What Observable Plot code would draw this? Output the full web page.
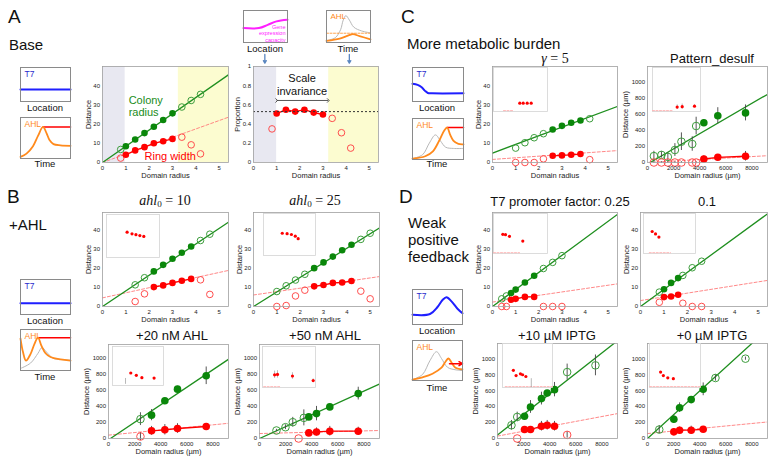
<!DOCTYPE html>
<html><head><meta charset="utf-8">
<script src="https://cdn.jsdelivr.net/npm/d3@7"></script>
<script src="https://cdn.jsdelivr.net/npm/@observablehq/plot@0.6"></script>
<style>
body{margin:0;background:#fff;}
#fig{position:relative;width:776px;height:463px;overflow:hidden;font-family:"Liberation Sans",Arial,sans-serif;background:#fff;color:#111;}
.t{position:absolute;line-height:1;white-space:nowrap;}
#fig svg{position:absolute;overflow:visible;}
</style></head><body><div id="fig"></div>
<script>
// ---------------- DATA ----------------
// Panel A - Base
const A1_greenFilled = [[1.0,8.5],[1.4,12.0],[1.8,15.3],[2.2,18.6],[2.6,22.1],[3.0,25.6]];
const A1_greenOpen = [[0.78,6.8],[3.4,28.9],[3.8,32.3],[4.2,35.5]];
const A1_redFilled = [[1.0,4.0],[1.4,6.3],[1.8,8.0],[2.2,10.0],[2.6,11.1],[3.0,12.3]];
const A1_redOpen = [[0.78,2.3],[3.4,13.2],[3.8,9.2],[4.2,4.5]];
const A1_greenFit = [[0,0],[5.4,45.7]];
const A1_redFit = [[0,0],[5.4,23.6]];
const A1_lowRange = [0,0.97];
const A1_highRange = [3.25,5.4];
const A2_redFilled = [[1.0,0.51],[1.4,0.55],[1.8,0.53],[2.2,0.55],[2.6,0.52],[3.0,0.50]];
const A2_redOpen = [[0.8,0.35],[3.4,0.46],[3.8,0.31],[4.2,0.15]];
const A2_mean = [0.53];
const A2_invariantRange = [1.0,3.23];
const A2_lowRange = [0,1.0];
const A2_highRange = [3.25,5.4];
const A2_probeX = [0.49,4.14];
// Panel B - +AHL
const B1_greenFilled = [[2.2,18.3],[2.6,21.7],[3.0,24.9],[3.4,28.0],[3.8,31.3]];
const B1_greenOpen = [[1.4,11.3],[1.8,15.0],[4.2,34.4],[4.6,37.7]];
const B1_redFilled = [[2.2,10.1],[2.6,11.0],[3.0,12.3],[3.4,13.4],[3.8,14.4]];
const B1_redOpen = [[1.4,2.6],[1.8,6.6],[4.2,13.9],[4.6,6.3]];
const B1_greenFit = [[0,0],[5.4,44]];
const B1_redFit = [[0,4.5],[5.4,18.8]];
const B1_inset = [[2.1,0.59],[2.6,0.55],[3.0,0.53],[3.4,0.51],[3.8,0.49]];
const B2_greenFilled = [[2.6,20.0],[3.0,23.0],[3.4,26.0],[3.8,29.3],[4.2,32.2]];
const B2_greenOpen = [[1.0,7.8],[1.4,10.8],[1.8,13.8],[2.2,16.8],[4.6,35.0],[5.0,38.2]];
const B2_redFilled = [[2.6,10.5],[3.0,11.2],[3.4,12.3],[3.8,12.5],[4.2,13.3]];
const B2_redOpen = [[1.0,0.0],[1.4,0.5],[1.8,5.5],[2.2,8.5],[4.6,8.0],[5.0,4.0]];
const B2_greenFit = [[0,0],[5.4,41]];
const B2_redFit = [[0,6],[5.4,15.6]];
const B2_inset = [[1.95,0.53],[2.45,0.52],[2.9,0.5],[3.3,0.46],[3.6,0.4]];
const B3_greenFilled = [[3300,292,70],[4320,471,15],[5290,617,35],[7490,784,110]];
const B3_greenOpen = [[2450,242,80]];
const B3_redFilled = [[3300,96,55],[4320,109,65],[5290,125,60],[7490,150,25]];
const B3_redOpen = [[2450,25,50]];
const B3_greenFit = [[150,0],[9200,990]];
const B3_redFit = [[0,42],[9200,190]];
const B3_inset = [[3300,0.32],[4300,0.26],[5300,0.2],[7500,0.19]];
const B3_insetErr = [[2350,0.03,0.18]];
const B4_greenFilled = [[3780,270,30],[4370,311,90],[5390,395,25],[7570,561,80]];
const B4_greenOpen = [[1300,100,15],[1990,141,30],[2550,204,60],[3400,258,100]];
const B4_redFilled = [[3780,70,25],[4370,82,50],[5390,91,60],[7570,91,50]];
const B4_redOpen = [[3000,0,0]];
const B4_greenFit = [[0,0],[9200,680]];
const B4_redFit = [[0,62],[9200,100]];
const B4_inset = [[2100,0.31],[2600,0.32],[5200,0.28],[8800,0.17]];
const B4_insetErr = [[2100,0.22,0.4],[2600,0.23,0.41],[5200,0.2,0.36],[8800,0.13,0.21]];
// Panel C - More metabolic burden
const C1_greenFilled = [[2.6,17.2],[3.0,19.1],[3.4,20.7],[3.8,21.9]];
const C1_greenOpen = [[1.0,7.5],[1.4,10.3],[1.8,12.9],[2.2,15.0],[4.2,22.8]];
const C1_redFilled = [[2.6,3.5],[3.0,3.7],[3.4,4.0],[3.8,4.4]];
const C1_redOpen = [[1.0,0],[1.4,0],[1.8,0],[2.2,1.9],[4.2,1.5]];
const C1_greenFit = [[0,4.9],[5.4,29.2]];
const C1_redFit = [[0,1.6],[5.4,6.2]];
const C1_inset = [[2.63,0.19],[2.97,0.19],[3.37,0.19],[3.77,0.19]];
const C2_greenFilled = [[4320,497,40],[5390,585,100],[7515,620,100]];
const C2_greenOpen = [[490,80,60],[1070,95,40],[1560,70,50],[2100,156,80],[2600,260,110],[3430,231,90],[3730,456,110]];
const C2_redFilled = [[4320,44,40],[5390,65,30],[7515,78,60]];
const C2_redOpen = [[490,0,10],[1070,0,10],[1560,0,10],[2100,0,10],[2600,0,10],[3430,0,10],[3730,0,10]];
const C2_greenFit = [[200,0],[9200,852]];
const C2_redFit = [[0,0],[9200,85]];
const C2_inset = [[4730,0.1],[5690,0.11],[8050,0.12]];
const C2_insetErr = [[4730,0.05,0.15],[5690,0.05,0.17],[8050,0.09,0.15]];
// Panel D - Weak positive feedback
const D1_greenFilled = [[0.8,7.0],[1.0,8.8],[1.4,12.5],[1.8,16.0]];
const D1_greenOpen = [[0.4,4.0],[0.6,5.5],[2.2,19.8],[2.6,23.0],[3.0,26.5]];
const D1_redFilled = [[0.8,3.5],[1.0,4.0],[1.4,5.0],[1.8,5.0]];
const D1_redOpen = [[0.4,0],[0.6,0],[2.2,0],[2.6,0],[3.0,0]];
const D1_greenFit = [[0,0],[5.4,48]];
const D1_redFit = [[0,2.3],[5.4,11.8]];
const D1_inset = [[0.93,0.48],[1.2,0.47],[1.6,0.43],[2.93,0.31]];
const D2_greenFilled = [[1.0,9.0],[1.3,12.3],[1.6,14.8]];
const D2_greenOpen = [[0.8,7.5],[1.8,16.2],[2.2,20.2],[2.6,23.6]];
const D2_redFilled = [[1.0,4.9],[1.3,5.2],[1.6,6.1]];
const D2_redOpen = [[0.8,2.2],[1.8,1.7],[2.2,0],[2.6,0]];
const D2_greenFit = [[0,0],[5.4,48.3]];
const D2_redFit = [[0,3.1],[5.4,13.6]];
const D2_inset = [[0.9,0.55],[1.25,0.49],[1.6,0.41]];
const D3_greenFilled = [[2070,279,30],[2530,395,80],[3370,500,80],[3810,570,30],[4370,612,90]];
const D3_greenOpen = [[1070,166,60],[1510,270,60],[5340,832,100],[7510,916,130]];
const D3_redFilled = [[2070,112,20],[2530,112,30],[3370,154,60],[3810,166,60],[4370,154,60]];
const D3_redOpen = [[1510,0,0],[5340,45,40]];
const D3_greenFit = [[0,45],[9200,1225]];
const D3_redFit = [[0,30],[9200,312]];
const D3_inset = [[2000,0.39],[2500,0.27],[3300,0.31],[3700,0.29],[4300,0.25]];
const D3_insetErr = [[5300,0.0,0.2]];
const D4_greenFilled = [[2020,241,50],[2460,386,60],[3350,487,30],[4270,616,80]];
const D4_greenOpen = [[900,112,50],[5210,758,40],[7510,1000,20]];
const D4_redFilled = [[2020,83,40],[2460,104,40],[3350,104,50],[4270,116,30]];
const D4_redOpen = [];
const D4_greenFit = [[0,0],[9200,1369]];
const D4_redFit = [[0,62],[9200,207]];
const D4_inset = [[2000,0.35],[2500,0.27],[3300,0.22],[4300,0.2]];
// Schematic curves (normalised 0..1)
const A_T7 = [[0,0.35],[1,0.35]];
const A_AHL = [[0,0.04],[0.12,0.12],[0.25,0.3],[0.35,0.55],[0.45,0.77],[0.52,0.62],[0.58,0.45],[0.66,0.35],[0.8,0.32],[1,0.31]];
const A_AHLhold = [[0.45,0.77],[1,0.77]];
const B_T7 = [[0,0.32],[1,0.32]];
const B_AHLref = [[0,0.05],[0.2,0.18],[0.35,0.42],[0.43,0.56],[0.52,0.45],[0.65,0.3],[0.8,0.27],[1,0.25]];
const B_AHL = [[0,0.78],[0.05,0.45],[0.11,0.24],[0.2,0.4],[0.28,0.65],[0.35,0.8],[0.42,0.6],[0.5,0.42],[0.6,0.33],[0.8,0.27],[1,0.24]];
const B_AHLhold = [[0.35,0.8],[1,0.8]];
const C_T7 = [[0,0.52],[0.1,0.49],[0.18,0.42],[0.24,0.32],[0.3,0.25],[0.38,0.24],[1,0.24]];
const C_AHLref = [[0,0.02],[0.2,0.12],[0.33,0.4],[0.45,0.6],[0.55,0.45],[0.65,0.3],[0.8,0.27],[1,0.27]];
const C_AHL = [[0,0.02],[0.25,0.08],[0.4,0.2],[0.52,0.45],[0.62,0.7],[0.68,0.78],[0.74,0.6],[0.8,0.46],[0.9,0.38],[1,0.37]];
const C_AHLhold = [[0.68,0.78],[1,0.78]];
const D_T7 = [[0,0.28],[0.35,0.3],[0.5,0.5],[0.6,0.7],[0.68,0.78],[0.78,0.66],[0.9,0.45],[1,0.32]];
const D_AHLref = [[0,0.02],[0.2,0.15],[0.35,0.5],[0.48,0.72],[0.58,0.55],[0.7,0.33],[0.85,0.27],[1,0.25]];
const D_AHL = [[0,0.02],[0.2,0.08],[0.4,0.17],[0.58,0.32],[0.66,0.47],[0.72,0.55],[0.78,0.45],[0.86,0.32],[1,0.28]];
const D_AHLhold = [[0.74,0.42],[1,0.42]];
const Atop_gene = [[0,0.45],[0.35,0.45],[0.55,0.55],[0.75,0.66],[1,0.71]];
const Atop_AHLref = [[0,0.06],[0.2,0.15],[0.32,0.4],[0.38,0.7],[0.44,0.84],[0.52,0.7],[0.62,0.48],[0.8,0.36],[1,0.3]];
const Atop_AHL = [[0,0.05],[0.3,0.12],[0.5,0.22],[0.6,0.26],[0.75,0.2],[1,0.1]];
const Atop_threshold = [[0,0.29],[1,0.29]];
const distTicksX = [0,1,2,3,4,5];
const distTicksY = [0,10,20,30,40];
const propTicksY = [0,0.2,0.4,0.6,0.8,1];
const umTicksX = [0,2000,4000,6000,8000];
const umTicksY = [0,200,400,600,800,1000];

// ---------------- DRAWING ----------------
const fig = document.getElementById("fig");
const FONT = '"Liberation Sans", Arial, Helvetica, sans-serif';
const GREEN = "#0a870a", GREEN_OPEN = "#3d9d3d", GREEN_LINE = "#1f8f1f";
const RED = "#ff0000", RED_OPEN = "#ff4d4d", RED_DASH = "#ff7a7a";
const STYLE = {fontFamily: FONT, fontSize: "7px", background: "transparent", overflow: "visible", color: "#222"};
const pts = a => a.map(d => ({x: d[0], y: d[1], e: d[2] ?? 0}));

function put(node, left, top) {
  node.style.position = "absolute"; node.style.left = left + "px"; node.style.top = top + "px";
  fig.appendChild(node); return node;
}
function txt(html, x, base, size, o = {}) {
  const d = document.createElement("div");
  d.className = "t"; d.innerHTML = html;
  d.style.fontSize = size + "px";
  d.style.fontFamily = o.family || FONT;
  if (o.color) d.style.color = o.color;
  const top = base - 0.85 * size;
  if (o.anchor === "middle") { d.style.width = "300px"; d.style.textAlign = "center"; put(d, x - 150, top); }
  else put(d, x, top);
}

function mainPlot(c) {
  const um = !!c.um;
  const ml = um ? 34 : 26, mr = 4, mt = c.mt ?? 4, mb = 22;
  const W = c.R - c.L, H = c.B - c.T;
  const gf = pts(c.gf || []), go = pts(c.go || []), rf = pts(c.rf || []), ro = pts(c.ro || []);
  const r = um ? 3.8 : 3.3;
  const marks = [];
  if (c.low) marks.push(Plot.rect([c.low], {x1: d => d[0], x2: d => d[1], fill: "#e8e8f1"}));
  if (c.high) marks.push(Plot.rect([c.high], {x1: d => d[0], x2: d => d[1], fill: "#fcfcd0"}));
  if (c.rFit) marks.push(Plot.line(pts(c.rFit), {x: "x", y: "y", stroke: RED_DASH, strokeWidth: 0.9, strokeDasharray: "3,2", clip: true}));
  if (c.gFit) marks.push(Plot.line(pts(c.gFit), {x: "x", y: "y", stroke: GREEN_LINE, strokeWidth: 1.3, clip: true}));
  if (rf.length > 1) marks.push(Plot.line(rf, {x: "x", y: "y", stroke: RED, strokeWidth: 1.3}));
  if (um) {
    const all = [...go, ...gf, ...ro, ...rf].filter(d => d.e > 0);
    marks.push(Plot.ruleX(all, {x: "x", y1: d => d.y - d.e, y2: d => d.y + d.e, stroke: "#444", strokeWidth: 0.9}));
  }
  marks.push(Plot.dot(go, {x: "x", y: "y", r, stroke: GREEN_OPEN, strokeWidth: 1, fill: "none"}));
  marks.push(Plot.dot(ro, {x: "x", y: "y", r, stroke: RED_OPEN, strokeWidth: 1, fill: "none"}));
  marks.push(Plot.dot(gf, {x: "x", y: "y", r, fill: GREEN}));
  marks.push(Plot.dot(rf, {x: "x", y: "y", r, fill: RED}));
  marks.push(...(c.extra || []));
  marks.push(Plot.frame({stroke: "#a0a0a0", strokeWidth: 0.8}));
  const fmt = um ? d3.format("d") : (d => String(d));
  marks.push(Plot.axisX({ticks: c.xTicks, tickSize: 0, tickPadding: 3, tickFormat: fmt, fontSize: 6, label: null}));
  marks.push(Plot.axisY({ticks: c.yTicks, tickSize: 0, tickPadding: 2.5, tickFormat: fmt, fontSize: 6, label: null}));
  marks.push(Plot.text([c.xLabel], {frameAnchor: "bottom", dy: 10.5, text: d => d, lineAnchor: "top", textAnchor: "middle", fontSize: 7.5, fill: "#222"}));
  marks.push(Plot.text([c.yLabel], {frameAnchor: "left", dx: -(c.yOff ?? (um ? 25 : 16.5)), rotate: -90, text: d => d, lineAnchor: "top", textAnchor: "middle", fontSize: 7.5, fill: "#222"}));
  const p = Plot.plot({
    width: W + ml + mr, height: H + mt + mb,
    marginLeft: ml, marginRight: mr, marginTop: mt, marginBottom: mb,
    x: {domain: c.xDomain}, y: {domain: c.yDomain},
    style: STYLE, marks
  });
  put(p, c.L - ml, c.T - mt);
}

function distPlot(c) {
  mainPlot(Object.assign({xDomain: [0, 5.4], yDomain: [0, 49], xTicks: distTicksX, yTicks: distTicksY,
    xLabel: "Domain radius", yLabel: "Distance"}, c));
}
function umPlot(c) {
  mainPlot(Object.assign({um: true, xDomain: [0, 9200], xTicks: umTicksX, yTicks: umTicksY,
    xLabel: "Domain radius (µm)", yLabel: "Distance (µm)"}, c));
}

function mini(L, T, W, H, marks) {
  const p = Plot.plot({
    width: W, height: H, margin: 0,
    x: {domain: [0, 1], axis: null}, y: {domain: [0, 1], axis: null},
    style: STYLE,
    marks: [...marks, Plot.frame({stroke: "#8a8a8a", strokeWidth: 1})]
  });
  put(p, L, T);
}
const curve = (a, stroke, w = 1.8, o = {}) => Plot.line(pts(a), {x: "x", y: "y", stroke, strokeWidth: w, curve: "catmull-rom", ...o});
const corner = (t, fill, size = 8.5) => Plot.text([t], {frameAnchor: "top-left", dx: 4, dy: 3, text: d => d, fill, fontSize: size, textAnchor: "start", lineAnchor: "top"});

function inset(L, T, W, H, xDomain, dots, errs = [], faint = null) {
  const marks = [Plot.frame({stroke: "#d4d4d4", fill: "white", strokeWidth: 0.8})];
  if (faint) marks.push(Plot.line(pts(faint), {x: "x", y: "y", stroke: "#ffb5b5", strokeWidth: 1, strokeDasharray: "2,1.5"}));
  if (errs.length) marks.push(Plot.ruleX(errs, {x: d => d[0], y1: d => d[1], y2: d => d[2], stroke: "#999", strokeWidth: 0.7}));
  marks.push(Plot.dot(pts(dots), {x: "x", y: "y", r: 1.6, fill: RED}));
  const p = Plot.plot({width: W, height: H, margin: 0, x: {domain: xDomain, axis: null}, y: {domain: [0, 1], axis: null}, style: STYLE, marks});
  put(p, L, T);
}

// ----- Panel A -----
distPlot({L: 102, R: 228, T: 66, B: 162, yDomain: [0, 50],
  gf: A1_greenFilled, go: A1_greenOpen, rf: A1_redFilled, ro: A1_redOpen, gFit: A1_greenFit, rFit: A1_redFit,
  low: A1_lowRange, high: A1_highRange,
  extra: [
    Plot.text(["Colony\nradius"], {x: () => 1.12, y: () => 35.3, text: d => d, fill: "#1a8c1a", fontSize: 11, textAnchor: "start", lineAnchor: "top", lineHeight: 1.15}),
    Plot.text(["Ring width"], {x: () => 1.8, y: () => 3.3, text: d => d, fill: RED, fontSize: 11, textAnchor: "start", lineAnchor: "middle"})
  ]});
mainPlot({L: 253, R: 378, T: 66, B: 162, mt: 16, xDomain: [0, 5.4], yDomain: [0, 1], xTicks: distTicksX, yTicks: propTicksY,
  xLabel: "Domain radius", yLabel: "Proportion", yOff: 18.5,
  rf: A2_redFilled, ro: A2_redOpen, low: A2_lowRange, high: A2_highRange,
  extra: [
    Plot.ruleY(A2_mean, {stroke: "#333", strokeWidth: 1, strokeDasharray: "2,2"}),
    Plot.link([A2_invariantRange], {x1: d => d[0], x2: d => d[1], y1: () => 0.646, y2: () => 0.646, stroke: "#444", strokeWidth: 0.9, markerStart: "arrow", markerEnd: "arrow"}),
    Plot.text(["Scale\ninvariance"], {x: () => 2.1, y: () => 0.925, text: d => d, fill: "#111", fontSize: 11, textAnchor: "middle", lineAnchor: "top", lineHeight: 1.12}),
    Plot.arrow(A2_probeX, {x1: d => d, x2: d => d, y1: () => 1.125, y2: () => 1.035, stroke: "#5a86c0", strokeWidth: 1.3, headLength: 4})
  ]});
mini(20, 67, 50, 34, [curve(A_T7, "#1f1fff", 2), corner("T7", "#2a2acc")]);
mini(20, 117, 50, 41, [curve(A_AHLhold, RED, 1.6), curve(A_AHL, "#ff8a1c", 1.8), corner("AHL", "#ff8a1c")]);
mini(243, 10, 44, 32, [curve(Atop_gene, "#ff1fff", 2),
  Plot.text(["Gene\nexpression\ncapacity"], {frameAnchor: "bottom-right", dx: -2, dy: -1, text: d => d, fill: "#ff22ff", fontSize: 5.5, textAnchor: "end", lineAnchor: "bottom", lineHeight: 1.1})]);
mini(326, 10, 44, 32, [curve(Atop_AHLref, "#b8b8b8", 1), curve(Atop_threshold, "#ff9a3a", 0.9, {strokeDasharray: "2,1.5"}),
  curve(Atop_AHL, "#ff8a1c", 1.8), corner("AHL", "#ff8a1c", 8)]);

// ----- Panel B -----
distPlot({L: 102, R: 228, T: 212, B: 306, gf: B1_greenFilled, go: B1_greenOpen, rf: B1_redFilled, ro: B1_redOpen, gFit: B1_greenFit, rFit: B1_redFit});
inset(106, 214, 53, 43, [0, 5.4], B1_inset);
distPlot({L: 253, R: 379, T: 212, B: 306, gf: B2_greenFilled, go: B2_greenOpen, rf: B2_redFilled, ro: B2_redOpen, gFit: B2_greenFit, rFit: B2_redFit});
inset(263, 213, 52, 42, [0, 5.4], B2_inset);
umPlot({L: 108, R: 228, T: 344, B: 438, yDomain: [0, 1175], gf: B3_greenFilled, go: B3_greenOpen, rf: B3_redFilled, ro: B3_redOpen, gFit: B3_greenFit, rFit: B3_redFit});
inset(112, 346, 51, 39, [0, 9200], B3_inset, B3_insetErr);
umPlot({L: 259, R: 379, T: 344, B: 438, yDomain: [0, 1175], gf: B4_greenFilled, go: B4_greenOpen, rf: B4_redFilled, ro: B4_redOpen, gFit: B4_greenFit, rFit: B4_redFit});
inset(262, 346, 53, 41, [0, 9200], B4_inset, B4_insetErr, [[200, 0.02], [3000, 0.02]]);
mini(20, 279, 50, 35, [curve(B_T7, "#1f1fff", 2), corner("T7", "#2a2acc")]);
mini(20, 329, 50, 41, [curve(B_AHLref, "#b8b8b8", 1), curve(B_AHLhold, RED, 1.6), curve(B_AHL, "#ff8a1c", 1.8), corner("AHL", "#ff8a1c")]);

// ----- Panel C -----
distPlot({L: 492, R: 617, T: 66, B: 162, yDomain: [0, 50], gf: C1_greenFilled, go: C1_greenOpen, rf: C1_redFilled, ro: C1_redOpen, gFit: C1_greenFit, rFit: C1_redFit});
inset(493, 67, 54, 44, [0, 5.4], C1_inset, [], [[1.0, 0.02], [1.9, 0.02]]);
umPlot({L: 647, R: 767, T: 66, B: 162, yDomain: [0, 1200], gf: C2_greenFilled, go: C2_greenOpen, rf: C2_redFilled, ro: C2_redOpen, gFit: C2_greenFit, rFit: C2_redFit});
inset(652, 67, 48, 44, [0, 9200], C2_inset, C2_insetErr, [[0, 0.02], [3800, 0.02]]);
mini(412, 67, 51, 34, [curve(C_T7, "#1f1fff", 2), corner("T7", "#2a2acc")]);
mini(412, 118, 51, 41, [curve(C_AHLref, "#b8b8b8", 1), curve(C_AHLhold, RED, 1.6), curve(C_AHL, "#ff8a1c", 1.8), corner("AHL", "#ff8a1c")]);

// ----- Panel D -----
distPlot({L: 492, R: 617, T: 212, B: 306, gf: D1_greenFilled, go: D1_greenOpen, rf: D1_redFilled, ro: D1_redOpen, gFit: D1_greenFit, rFit: D1_redFit});
inset(493, 213, 54, 40, [0, 5.4], D1_inset, [], [[0, 0.02], [2.6, 0.02]]);
distPlot({L: 640, R: 767, T: 212, B: 306, gf: D2_greenFilled, go: D2_greenOpen, rf: D2_redFilled, ro: D2_redOpen, gFit: D2_greenFit, rFit: D2_redFit});
inset(643, 213, 52, 40, [0, 5.4], D2_inset, [], [[0.6, 0.02], [2.8, 0.02]]);
umPlot({L: 497, R: 617, T: 343, B: 438, yDomain: [0, 1190], gf: D3_greenFilled, go: D3_greenOpen, rf: D3_redFilled, ro: D3_redOpen, gFit: D3_greenFit, rFit: D3_redFit});
inset(502, 343, 50, 44, [0, 9200], D3_inset, D3_insetErr, [[500, 0.02], [9200, 0.02]]);
umPlot({L: 647, R: 767, T: 343, B: 438, yDomain: [0, 1190], gf: D4_greenFilled, go: D4_greenOpen, rf: D4_redFilled, ro: D4_redOpen, gFit: D4_greenFit, rFit: D4_redFit});
inset(649, 343, 51, 44, [0, 9200], D4_inset, [], [[0, 0.02], [9200, 0.02]]);
mini(412, 289, 50, 35, [curve(D_T7, "#1f1fff", 2), corner("T7", "#2a2acc")]);
mini(412, 340, 50, 40, [curve(D_AHLref, "#b8b8b8", 1), curve(D_AHL, "#ff8a1c", 1.8),
  Plot.arrow([D_AHLhold], {x1: d => d[0][0], y1: d => d[0][1], x2: d => d[1][0], y2: d => d[1][1], stroke: RED, strokeWidth: 1.5, headLength: 4}),
  corner("AHL", "#ff8a1c")]);

// ----- Text -----
txt("A", 8, 23, 19); txt("B", 7, 203, 19); txt("C", 401, 23, 19); txt("D", 399, 203, 19);
txt("Base", 9, 50, 15); txt("+AHL", 9, 230, 15); txt("More metabolic burden", 407, 48.3, 15);
txt("Weak", 408, 228, 15); txt("positive", 408, 245, 15); txt("feedback", 408, 262, 15);
const SERIF = '"Liberation Serif", "DejaVu Serif", serif';
txt('<i>ahl</i><sub style="font-size:0.65em;vertical-align:-0.2em">0</sub> = 10', 165, 206, 14, {anchor: "middle", family: SERIF});
txt('<i>ahl</i><sub style="font-size:0.65em;vertical-align:-0.2em">0</sub> = 25', 315, 206, 14, {anchor: "middle", family: SERIF});
txt('<i>γ</i> = 5', 555, 64, 14, {anchor: "middle", family: SERIF});
txt("+20 nM AHL", 172, 340, 13, {anchor: "middle"});
txt("+50 nM AHL", 325, 340, 13, {anchor: "middle"});
txt("Pattern_desulf", 712, 63, 13, {anchor: "middle"});
txt("T7 promoter factor: 0.25", 560, 206, 13, {anchor: "middle"});
txt("0.1", 707, 206, 13, {anchor: "middle"});
txt("+10 µM IPTG", 557, 340, 13, {anchor: "middle"});
txt("+0 µM IPTG", 712, 340, 13, {anchor: "middle"});
const cap = (t, x, b) => txt(t, x, b, 9.5, {anchor: "middle"});
cap("Location", 45, 111); cap("Time", 45, 167);
cap("Location", 45, 324); cap("Time", 45, 380);
cap("Location", 437, 111); cap("Time", 437, 167);
cap("Location", 437, 334); cap("Time", 437, 391);
cap("Location", 265, 52); cap("Time", 348, 52);
</script>
</body></html>
